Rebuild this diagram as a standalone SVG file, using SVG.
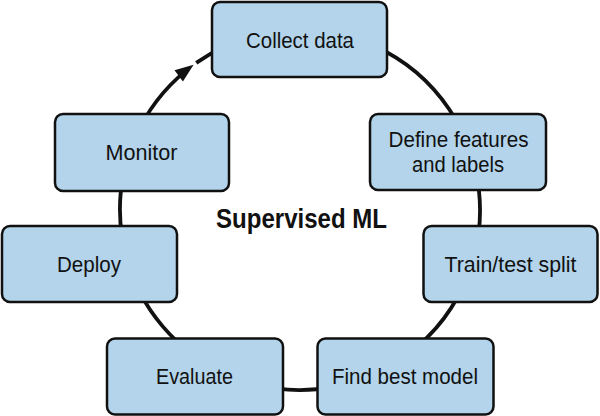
<svg xmlns="http://www.w3.org/2000/svg" width="600" height="416" viewBox="0 0 600 416">
<style>
.box{fill:#b3d4ea;stroke:#111;stroke-width:2.5}
.lbl{font-family:"Liberation Sans",Arial,sans-serif;font-size:22.5px;fill:#111;text-anchor:middle}
.title{font-family:"Liberation Sans",Arial,sans-serif;font-size:28px;font-weight:bold;fill:#111;text-anchor:middle}
.conn{fill:none;stroke:#111;stroke-width:3.8}
</style>
<rect width="600" height="416" fill="#fff"/>
<g id="connectors">
<path class="conn" d="M196.25,62.92 A180,180 0 1,1 186.73,70.12"/>
<polygon points="193.6,64.8 174.5,70.2 182.9,81.4" fill="#111"/>
</g>
<g id="collect">
<rect class="box" x="212" y="2" width="175" height="75" rx="8"/>
<text class="lbl" x="300" y="48" textLength="108" lengthAdjust="spacingAndGlyphs">Collect data</text>
</g>
<g id="define">
<rect class="box" x="370" y="114" width="176" height="76" rx="8"/>
<text class="lbl" x="458.5" y="146.5" textLength="140" lengthAdjust="spacingAndGlyphs">Define features</text>
<text class="lbl" x="458" y="171.5" textLength="92" lengthAdjust="spacingAndGlyphs">and labels</text>
</g>
<g id="split">
<rect class="box" x="423.5" y="226" width="174" height="76" rx="8"/>
<text class="lbl" x="510.5" y="271.5" textLength="132" lengthAdjust="spacingAndGlyphs">Train/test split</text>
</g>
<g id="best">
<rect class="box" x="317.5" y="338.5" width="176" height="76" rx="8"/>
<text class="lbl" x="405" y="384" textLength="146" lengthAdjust="spacingAndGlyphs">Find best model</text>
</g>
<g id="evaluate">
<rect class="box" x="107" y="338.5" width="176" height="76" rx="8"/>
<text class="lbl" x="194.5" y="384" textLength="77" lengthAdjust="spacingAndGlyphs">Evaluate</text>
</g>
<g id="deploy">
<rect class="box" x="2" y="226" width="175" height="76" rx="8"/>
<text class="lbl" x="89" y="272" textLength="64" lengthAdjust="spacingAndGlyphs">Deploy</text>
</g>
<g id="monitor">
<rect class="box" x="55" y="114" width="174" height="77" rx="8"/>
<text class="lbl" x="141.5" y="159.5" textLength="72" lengthAdjust="spacingAndGlyphs">Monitor</text>
</g>
<g id="title">
<text class="title" x="301.5" y="227.5" textLength="171" lengthAdjust="spacingAndGlyphs">Supervised ML</text>
</g>
</svg>
